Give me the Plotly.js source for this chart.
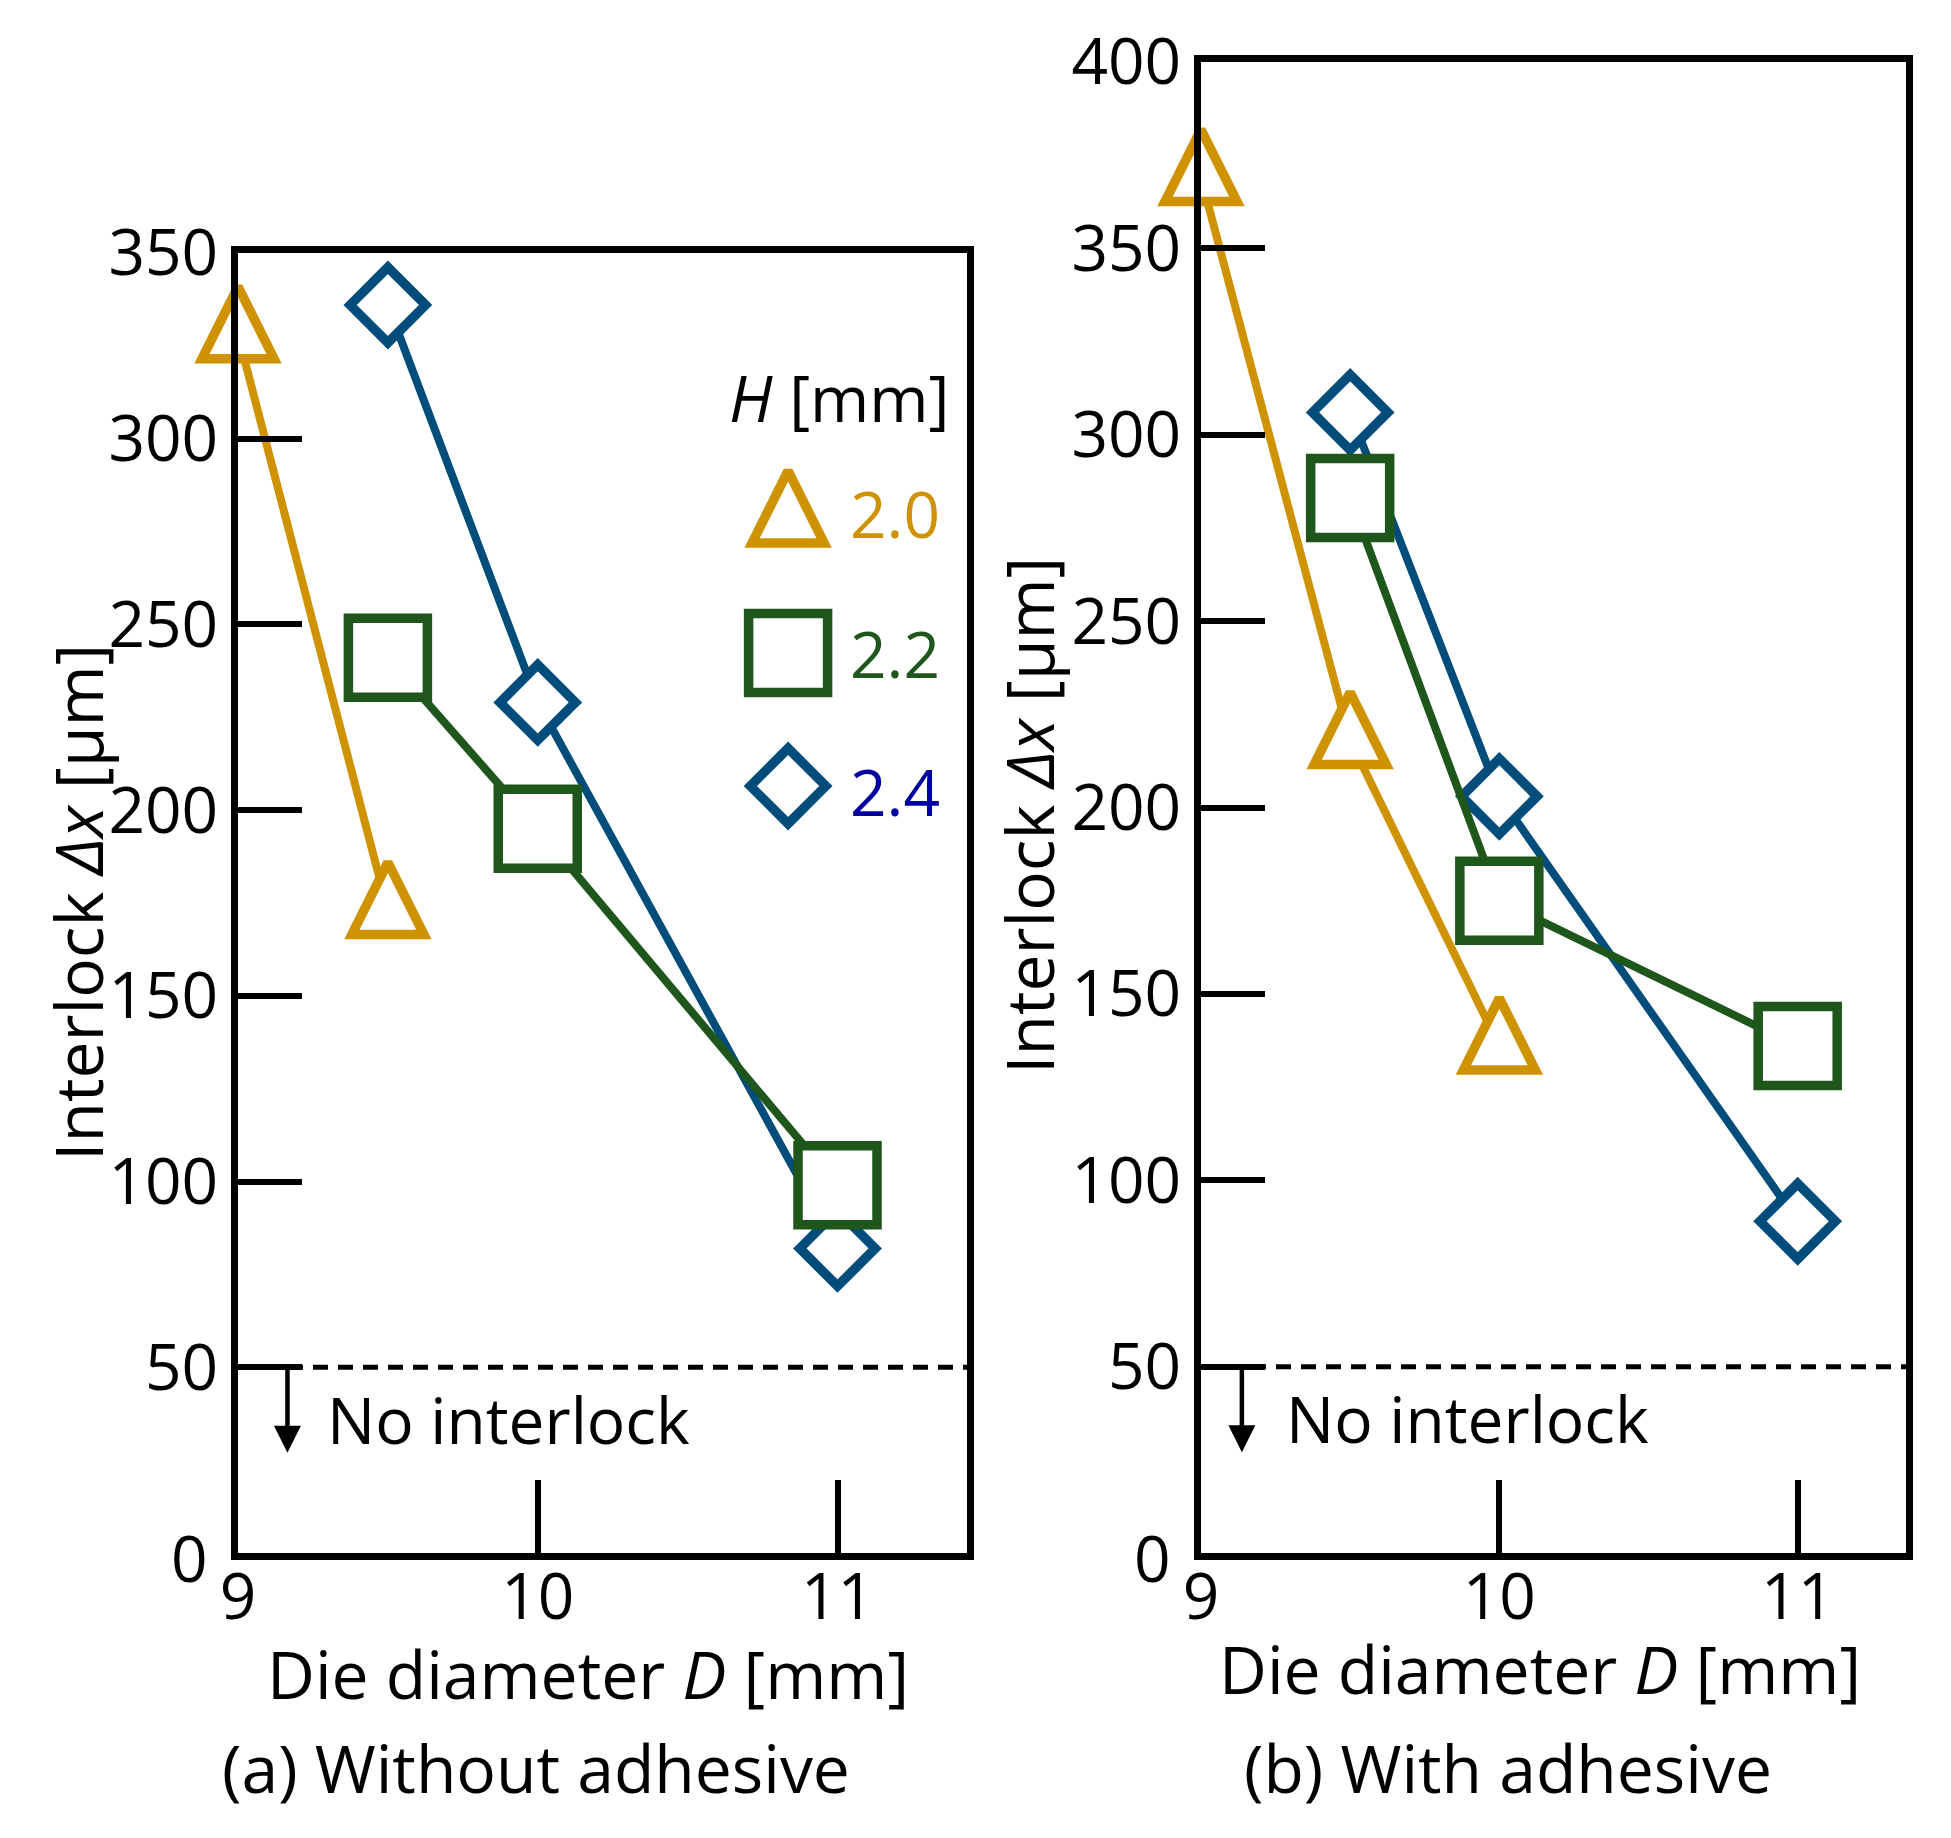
<!DOCTYPE html>
<html>
<head>
<meta charset="utf-8">
<script src="https://cdn.plot.ly/plotly-3.0.1.min.js"></script>
<style>html,body{margin:0;padding:0;background:#fff;}</style>
</head>
<body>
<div id="chart" style="width:1951px;height:1838px;"></div>
<script>
// ---------------- data ----------------
const seriesNames = ['2.0', '2.2', '2.4'];
const seriesColors = ['#CF9200', '#1F561B', '#004D7B'];
const labelColors = ['#CF9200', '#1F561B', '#0000A0'];
const seriesSymbols = ['tri', 'square', 'diamond'];

// (a) Without adhesive
const a_D20 = [9, 9.5];
const a_X20 = [328, 173];
const a_D22 = [9.5, 10, 11];
const a_X22 = [241, 195, 99];
const a_D24 = [9.5, 10, 11];
const a_X24 = [336, 229, 82];

// (b) With adhesive
const b_D20 = [9, 9.5, 10];
const b_X20 = [369, 218, 136];
const b_D22 = [9.5, 10, 11];
const b_X22 = [283, 175, 136];
const b_D24 = [9.5, 10, 11];
const b_X24 = [306, 203, 89];

const xTicks = [9, 10, 11];
const aYTicks = [0, 50, 100, 150, 200, 250, 300, 350];
const bYTicks = [0, 50, 100, 150, 200, 250, 300, 350, 400];
const noInterlockLevel = 50;

// ---------------- style ----------------
const FONT = '"Open Sans", "Noto Sans", sans-serif';
const FS = 64;      // tick labels, legend, annotations
const FS_T = 66;    // titles / captions
const W = 1951, H = 1838;
const LINE_W = 8, MLINE_W = 9.5;

// marker specs; the triangle is an isosceles (height = width) shape made from
// plotly's arrow-down symbol rotated 180deg and shifted so its centroid sits on the point
const TRI_SIZE = 72;
function markerSpec(kind, color) {
  const base = {color: '#ffffff', line: {color: color, width: MLINE_W}};
  if (kind === 'tri') {
    return Object.assign(base, {symbol: 'arrow-down', size: TRI_SIZE, angle: 180,
                                standoff: TRI_SIZE * 2 / 3});
  }
  if (kind === 'square') return Object.assign(base, {symbol: 'square', size: 79});
  return Object.assign(base, {symbol: 'diamond', size: 58});
}

function px2fx(px) { return px / W; }
function px2fy(py) { return (H - py) / H; }

const aDomX = [px2fx(238), px2fx(967)];
const aDomY = [px2fy(1553), px2fy(253)];
const bDomX = [px2fx(1201), px2fx(1906)];
const bDomY = [px2fy(1553), px2fy(62)];

function mk(xs, ys, i, xa, ya) {
  return {
    x: xs, y: ys, xaxis: xa, yaxis: ya, type: 'scatter', mode: 'lines+markers',
    name: seriesNames[i], showlegend: false, cliponaxis: false,
    line: {color: seriesColors[i], width: LINE_W, backoff: 0},
    marker: markerSpec(seriesSymbols[i], seriesColors[i])
  };
}

const traces = [
  mk(a_D20, a_X20, 0, 'x', 'y'),
  mk(a_D24, a_X24, 2, 'x', 'y'),
  mk(a_D22, a_X22, 1, 'x', 'y'),
  mk(b_D20, b_X20, 0, 'x2', 'y2'),
  mk(b_D24, b_X24, 2, 'x2', 'y2'),
  mk(b_D22, b_X22, 1, 'x2', 'y2')
];

// legend (markers drawn on an overlay axis spanning panel (a), fraction units)
const LEG_MX = 0.7546;
const LEG_TX = 0.8368;
const legRowY = [0.7954, 0.6923, 0.5900];
const legLabelY = [0.8000, 0.6923, 0.5860];
seriesNames.forEach(function (nm, i) {
  traces.push({
    x: [LEG_MX], y: [legRowY[i]], xaxis: 'x3', yaxis: 'y3', type: 'scatter', mode: 'markers',
    showlegend: false, cliponaxis: false, hoverinfo: 'skip',
    marker: markerSpec(seriesSymbols[i], seriesColors[i])
  });
});

function yAxis(dom, rng, ticks, anchor) {
  return {
    domain: dom, range: rng, anchor: anchor,
    tickmode: 'array', tickvals: ticks,
    ticktext: ticks.map(function (v) { return v === 0 ? '' : String(v); }),
    ticks: 'inside', ticklen: 64, tickwidth: 6, tickcolor: '#000',
    showline: true, linewidth: 7, linecolor: '#000', mirror: true,
    showgrid: false, zeroline: false,
    tickfont: {family: FONT, size: FS, color: '#000'}
  };
}
function xAxis(dom, rng, anchor) {
  return {
    domain: dom, range: rng, anchor: anchor,
    tickmode: 'array', tickvals: xTicks, ticktext: xTicks.map(String),
    ticks: 'inside', ticklen: 73, tickwidth: 6, tickcolor: '#000',
    ticklabelstandoff: -18,
    showline: true, linewidth: 7, linecolor: '#000', mirror: true,
    showgrid: false, zeroline: false,
    tickfont: {family: FONT, size: FS, color: '#000'}
  };
}

const annFont = {family: FONT, size: FS, color: '#000'};
const titleFont = {family: FONT, size: FS_T, color: '#000'};
const annotations = [
  // y axis titles
  {xref: 'paper', yref: 'paper', x: px2fx(77), y: px2fy(903), text: 'Interlock <i>Δx</i> [μm]',
   textangle: -90, showarrow: false, xanchor: 'center', yanchor: 'middle', font: titleFont},
  {xref: 'paper', yref: 'paper', x: px2fx(1028), y: px2fy(816), text: 'Interlock <i>Δx</i> [μm]',
   textangle: -90, showarrow: false, xanchor: 'center', yanchor: 'middle', font: titleFont},
  // x axis titles
  {xref: 'paper', yref: 'paper', x: px2fx(588), y: px2fy(1673), text: 'Die diameter <i>D</i> [mm]',
   showarrow: false, xanchor: 'center', yanchor: 'middle', font: titleFont},
  {xref: 'paper', yref: 'paper', x: px2fx(1540), y: px2fy(1668), text: 'Die diameter <i>D</i> [mm]',
   showarrow: false, xanchor: 'center', yanchor: 'middle', font: titleFont},
  // panel captions
  {xref: 'paper', yref: 'paper', x: px2fx(536), y: px2fy(1767), text: '(a) Without adhesive',
   showarrow: false, xanchor: 'center', yanchor: 'middle', font: titleFont},
  {xref: 'paper', yref: 'paper', x: px2fx(1508), y: px2fy(1767), text: '(b) With adhesive',
   showarrow: false, xanchor: 'center', yanchor: 'middle', font: titleFont},
  // zero labels (offset left as in original)
  {xref: 'paper', yref: 'paper', x: px2fx(189), y: px2fy(1557), text: '0',
   showarrow: false, xanchor: 'center', yanchor: 'middle', font: annFont},
  {xref: 'paper', yref: 'paper', x: px2fx(1152), y: px2fy(1557), text: '0',
   showarrow: false, xanchor: 'center', yanchor: 'middle', font: annFont},
  // No interlock texts
  {xref: 'x', yref: 'y', x: 9.29, y: 36, text: 'No interlock', showarrow: false,
   xanchor: 'left', yanchor: 'middle', font: annFont},
  {xref: 'x2', yref: 'y2', x: 9.278, y: 36, text: 'No interlock', showarrow: false,
   xanchor: 'left', yanchor: 'middle', font: annFont},
  // arrows
  {xref: 'x', yref: 'y', axref: 'x', ayref: 'y', x: 9.165, y: 27, ax: 9.165, ay: noInterlockLevel,
   text: '', showarrow: true, arrowhead: 2, arrowwidth: 4.5, arrowsize: 1.2, arrowcolor: '#000'},
  {xref: 'x2', yref: 'y2', axref: 'x2', ayref: 'y2', x: 9.137, y: 27, ax: 9.137, ay: noInterlockLevel,
   text: '', showarrow: true, arrowhead: 2, arrowwidth: 4.5, arrowsize: 1.2, arrowcolor: '#000'},
  // legend title
  {xref: 'x3', yref: 'y3', x: 0.9794, y: 0.8885, text: '<i>H</i> [mm]', showarrow: false,
   xanchor: 'right', yanchor: 'middle', font: annFont}
];
seriesNames.forEach(function (nm, i) {
  annotations.push({xref: 'x3', yref: 'y3', x: LEG_TX, y: legLabelY[i], text: nm, showarrow: false,
    xanchor: 'left', yanchor: 'middle', font: {family: FONT, size: FS, color: labelColors[i]}});
});

const layout = {
  width: W, height: H,
  margin: {l: 0, r: 0, t: 0, b: 0, pad: 0},
  paper_bgcolor: '#fff', plot_bgcolor: 'rgba(0,0,0,0)',
  showlegend: false,
  xaxis: xAxis(aDomX, [9, 11.432], 'y'),
  yaxis: yAxis(aDomY, [0, 350], aYTicks, 'x'),
  xaxis2: xAxis(bDomX, [9, 11.363], 'y2'),
  yaxis2: yAxis(bDomY, [0, 400], bYTicks, 'x2'),
  xaxis3: {overlaying: 'x', range: [0, 1], visible: false, anchor: 'y3'},
  yaxis3: {overlaying: 'y', range: [0, 1], visible: false, anchor: 'x3'},
  shapes: [
    {type: 'line', xref: 'x domain', yref: 'y', x0: 0, x1: 1, y0: noInterlockLevel, y1: noInterlockLevel,
     line: {color: '#000', width: 5, dash: '15px,10px'}},
    {type: 'line', xref: 'x2 domain', yref: 'y2', x0: 0, x1: 1, y0: noInterlockLevel, y1: noInterlockLevel,
     line: {color: '#000', width: 5, dash: '15px,10px'}}
  ],
  annotations: annotations
};

Plotly.newPlot('chart', traces, layout, {displayModeBar: false, staticPlot: true});
</script>
</body>
</html>
